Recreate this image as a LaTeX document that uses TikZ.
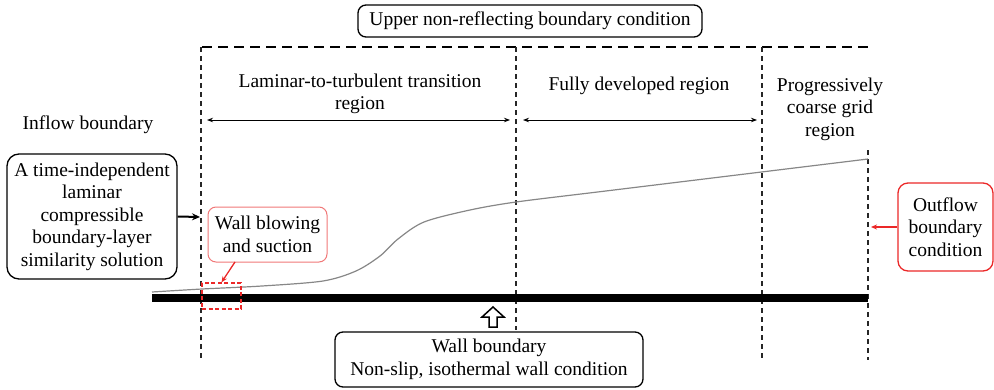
\documentclass[tikz,border=0pt]{standalone}
\usepackage{fontspec}
\setmainfont{Liberation Serif}
\usetikzlibrary{arrows.meta}
\definecolor{myred}{RGB}{235,40,40}
\definecolor{lightred}{RGB}{240,120,120}
\definecolor{curvegray}{RGB}{135,135,135}
\begin{document}
\begin{tikzpicture}[x=1pt,y=-1pt,
  every node/.style={font=\rmfamily\fontsize{19.5}{22.5}\selectfont, align=center},
  bbox/.style={draw, rounded corners=8pt, line width=1.3pt, inner sep=0pt},
  rbox/.style={draw=lightred, rounded corners=8pt, line width=1pt, inner sep=0pt},
  obox/.style={draw=myred, rounded corners=10pt, line width=1.3pt, inner sep=0pt},
  vdash/.style={dash pattern=on 5pt off 4pt, line width=1.1pt, black!85},
  hdash/.style={dash pattern=on 10pt off 6pt, line width=2pt},
  spanarrow/.style={{Stealth[length=6pt,width=4.5pt]}-{Stealth[length=6pt,width=4.5pt]}, line width=0.9pt},
  lbl/.style={inner sep=0pt}]
\useasboundingbox (0,0) rectangle (994,389);

% boundary lines
\coordinate (tl) at (202,47);
\coordinate (tr) at (870,47);
\draw[hdash] (tl) -- (tr);

\coordinate (v1t) at (201,47);  \coordinate (v1b) at (201,360);
\coordinate (v2t) at (516,47);  \coordinate (v2b) at (516,330);
\coordinate (v3t) at (762,47);  \coordinate (v3b) at (762,360);
\coordinate (v4t) at (868,150); \coordinate (v4b) at (868,360);
\draw[vdash] (v1t) -- (v1b);
\draw[vdash] (v2t) -- (v2b);
\draw[vdash] (v3t) -- (v3b);
\draw[vdash] (v4t) -- (v4b);

% wall and boundary layer
\coordinate (wl) at (152,298);
\coordinate (wr) at (868,298);
\draw[line width=8pt] (wl) -- (wr);
\draw[curvegray, line width=1.2pt] plot[smooth, tension=0.5] coordinates
  {(152,292) (202,289) (262,286) (323,281) (356,271) (380,256) (398,239) (424,222) (470,210) (516,202) (600,191.7) (700,179.5) (868,159)};

% top box
\node[bbox, minimum width=344, minimum height=32] (upper) at (530,21) {Upper non-reflecting boundary condition};

% region labels
\node[lbl] (lam) at (360,94) {Laminar-to-turbulent transition\\region};
\node[lbl] (full) at (639,86) {Fully developed region};
\node[lbl] (prog) at (830,109) {Progressively\\coarse grid\\region};
\node[lbl] (inflow) at (88,125) {Inflow boundary};

\coordinate (a1l) at (207,120); \coordinate (a1r) at (510,120);
\coordinate (a2l) at (523,120); \coordinate (a2r) at (757,120);
\draw[spanarrow] (a1l) -- (a1r);
\draw[spanarrow] (a2l) -- (a2r);

% left box
\node[bbox, minimum width=170, minimum height=125, rounded corners=12pt] (sim) at (92,216.5)
  {A time-independent\\laminar\\compressible\\boundary-layer\\similarity solution};
\coordinate (inpt) at (200,217);
\draw[line width=2pt, -{Stealth[length=8pt,width=7pt]}] (sim.east) -- (inpt);

% wall blowing and suction
\node[rbox, minimum width=119, minimum height=55] (wb) at (267.5,234.5) {Wall blowing\\and suction};
\node[draw=myred, dash pattern=on 4pt off 2.5pt, line width=1.3pt, minimum width=39, minimum height=26, inner sep=0pt] (rd) at (221.5,296) {};
\coordinate (wbs) at (235,262);
\draw[myred, line width=1.3pt, -{Stealth[length=6pt,width=5pt]}] (wbs) -- (rd.north);

% outflow
\node[obox, minimum width=95, minimum height=88] (out) at (945.5,227) {Outflow\\boundary\\condition};
\coordinate (outpt) at (871,227);
\draw[myred, line width=1.3pt, -{Stealth[length=6pt,width=5pt]}] (out.west) -- (outpt);

% wall boundary box
\node[bbox, minimum width=308, minimum height=55] (wall) at (489,359.5) {Wall boundary\\Non-slip, isothermal wall condition};
\draw[line width=1.5pt, fill=white, line join=miter]
  (489,327) -- (489,317) -- (482,317) -- (493,307) -- (504,317) -- (497,317) -- (497,327) -- cycle;
\end{tikzpicture}
\end{document}
